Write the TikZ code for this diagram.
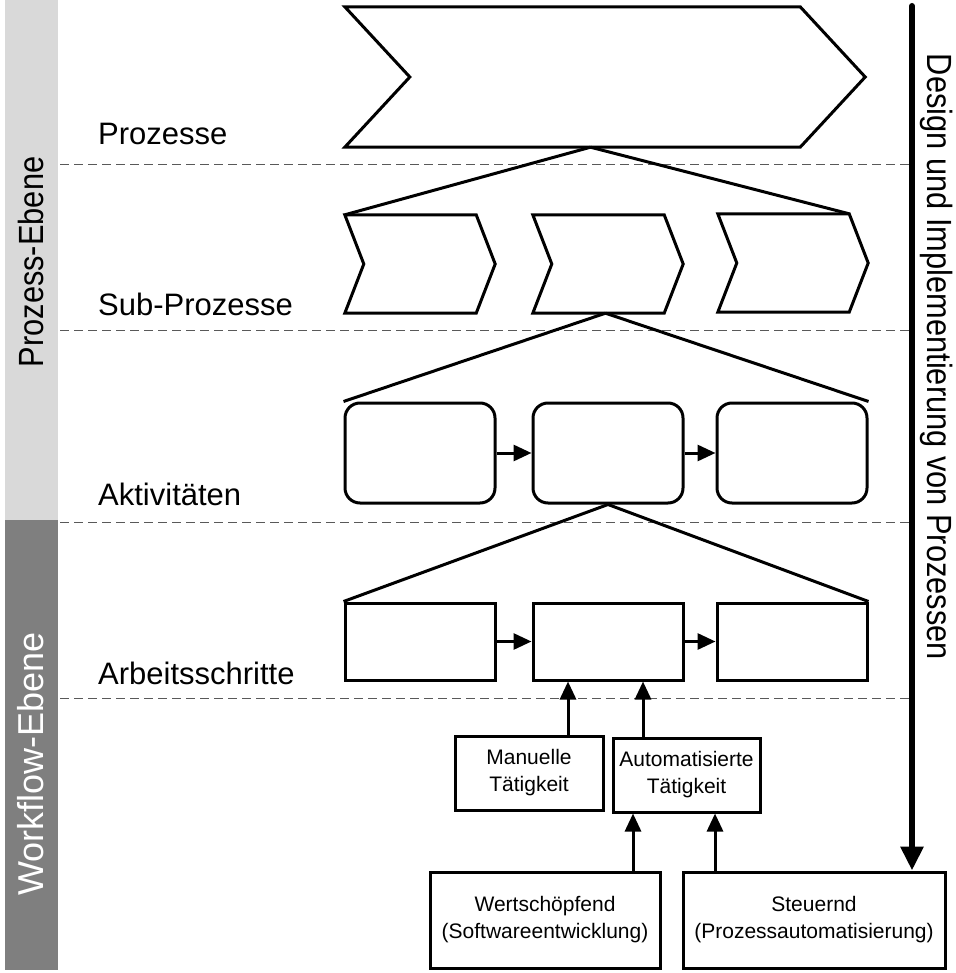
\documentclass[tikz,border=0pt]{standalone}
\usepackage{fontspec}
\setmainfont{Liberation Sans}
\newfontfamily\schmal[FakeStretch=0.88]{Liberation Sans}
\usepackage{tikz}
\usetikzlibrary{arrows.meta,positioning}
\definecolor{ebenehell}{HTML}{D9D9D9}
\definecolor{ebenedunkel}{HTML}{7F7F7F}
\definecolor{trennlinie}{HTML}{595959}

\begin{document}
\begin{tikzpicture}[x=1pt,y=-1pt,
                    every node/.style={inner sep=0pt},
                    stufe/.style={anchor=base west, font=\fontsize{31}{37}\selectfont},
                    ebene/.style={font=\schmal\fontsize{35}{40}\selectfont},
                    form/.style={minimum width=#1},
                    kasten/.style={draw, line width=3pt, align=center,
                                   font=\fontsize{21}{27}\selectfont},
                    linie/.style={line width=3pt},
                    pfeil/.style={line width=3pt, -{Triangle[length=18pt,width=16pt]}},
                    trenn/.style={draw=trennlinie, line width=1pt, dash pattern=on 9pt off 5pt}]
    \useasboundingbox (0,0) rectangle (955,973);
    % Ebenen links
    \fill[ebenehell] (5,0) rectangle (58,520);
    \fill[ebenedunkel] (5,520) rectangle (58,970);
    \node[ebene, rotate=90] (pe) at (31,262) {Prozess-Ebene};
    \node[ebene, rotate=90, text=white, font=\fontsize{36}{40}\selectfont] (we) at (31,764) {Workflow-Ebene};

    % Trennlinien
    \draw[trenn] (60,165) -- (912,165);
    \draw[trenn] (60,330) -- (912,330);
    \draw[trenn] (60,522) -- (912,522);
    \draw[trenn] (60,698) -- (912,698);

    \node[stufe] (l1) at (98,145) {Prozesse};
    \node[stufe] (l2) at (98,315) {Sub-Prozesse};
    \node[stufe] (l3) at (98,505) {Aktivitäten};
    \node[stufe] (l4) at (98,684) {Arbeitsschritte};

    % Prozesse
    \node[form=455pt, minimum height=140pt] (proz) at (572.5,77) {};
    \draw[linie] (proz.north west) -- (proz.north east) -- ([xshift=65pt]proz.east)
        -- (proz.south east) -- (proz.south west) -- ([xshift=65pt]proz.west) -- cycle;

    % Sub-Prozesse
    \node[form=131pt, minimum height=98pt] (sp1) at (410.5,264) {};
    \node[form=131pt, minimum height=98pt] (sp2) at (598.5,264) {};
    \node[form=131pt, minimum height=98pt] (sp3) at (783.5,263) {};
    \draw[linie] (sp1.north west) -- (sp1.north east) -- ([xshift=19pt]sp1.east)
        -- (sp1.south east) -- (sp1.south west) -- ([xshift=19pt]sp1.west) -- cycle;
    \draw[linie] (sp2.north west) -- (sp2.north east) -- ([xshift=19pt]sp2.east)
        -- (sp2.south east) -- (sp2.south west) -- ([xshift=19pt]sp2.west) -- cycle;
    \draw[linie] (sp3.north west) -- (sp3.north east) -- ([xshift=19pt]sp3.east)
        -- (sp3.south east) -- (sp3.south west) -- ([xshift=19pt]sp3.west) -- cycle;
    \coordinate (spitze1) at ([xshift=18pt]proz.south);
    \draw[linie] (spitze1) -- (sp1.north west);
    \draw[linie] (spitze1) -- (sp3.north east);

    % Aktivitaeten
    \node[kasten, form=150pt, minimum height=100pt, rounded corners=15pt] (akt1) at (420,453) {};
    \node[kasten, form=150pt, minimum height=100pt, rounded corners=15pt] (akt2) at (608,453) {};
    \node[kasten, form=150pt, minimum height=100pt, rounded corners=15pt] (akt3) at (792,453) {};
    \draw[pfeil] (akt1) -- (akt2);
    \draw[pfeil] (akt2) -- (akt3);
    \coordinate (spitze2) at ([xshift=7pt]sp2.south);
    \draw[linie] (spitze2) -- (akt1.north west);
    \draw[linie] (spitze2) -- (akt3.north east);

    % Arbeitsschritte
    \node[kasten, form=150pt, minimum height=77pt] (as1) at (420,641.5) {};
    \node[kasten, form=150pt, minimum height=77pt] (as2) at (608,641.5) {};
    \node[kasten, form=150pt, minimum height=77pt] (as3) at (792,641.5) {};
    \draw[pfeil] (as1) -- (as2);
    \draw[pfeil] (as2) -- (as3);
    \draw[linie] (akt2.south) -- (as1.north west);
    \draw[linie] (akt2.south) -- (as3.north east);

    % Taetigkeiten
    \node[kasten, form=148pt, minimum height=74pt] (man) at (529,773) {Manuelle\\Tätigkeit};
    \node[kasten, form=147pt, minimum height=74pt] (auto) at (686.5,775) {Automatisierte\\Tätigkeit};
    \node[kasten, form=230pt, minimum height=96pt] (wert) at (545,920) {Wertschöpfend\\(Softwareentwicklung)};
    \node[kasten, form=262pt, minimum height=96pt] (steu) at (814,920) {Steuernd\\(Prozessautomatisierung)};
    \draw[pfeil] ([xshift=39pt]man.north) -- ([xshift=39pt]man.north |- as2.south);
    \draw[pfeil] ([xshift=-43.5pt]auto.north) -- ([xshift=-43.5pt]auto.north |- as2.south);
    \draw[pfeil] ([xshift=88pt]wert.north) -- ([xshift=88pt]wert.north |- auto.south);
    \draw[pfeil] ([xshift=-99pt]steu.north) -- ([xshift=-99pt]steu.north |- auto.south);

    % Design und Implementierung
    \coordinate (start) at (912,6);
    \draw[line width=6pt, line cap=round, -{Triangle[length=24pt,width=22pt]}] (start) -- (start |- steu.north);
    \node[ebene, rotate=-90] (di) at (937,357) {Design und Implementierung von Prozessen};
\end{tikzpicture}
\end{document}
